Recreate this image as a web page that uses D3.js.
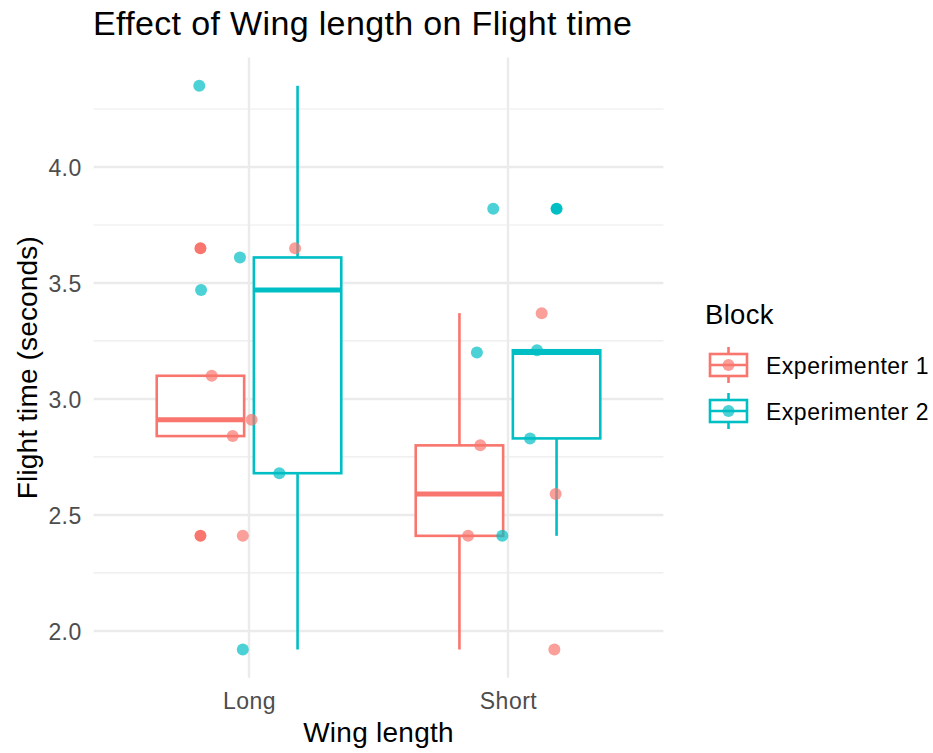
<!DOCTYPE html>
<html>
<head>
<meta charset="utf-8">
<script src="https://cdn.jsdelivr.net/npm/d3@7"></script>
<style>
  html, body { margin: 0; padding: 0; background: #fff; }
  svg { display: block; font-family: "Liberation Sans", Arial, Helvetica, sans-serif; }
</style>
</head>
<body>
<svg id="chart" width="933" height="753"></svg>
<script>
// ---- data ----
const categories = ["Long", "Short"];
const blocks = ["Experimenter 1", "Experimenter 2"];
const blockColors = ["#F8766D", "#00BFC4"];
const obsWing = ["Long","Long","Long","Long","Long",
                 "Long","Long","Long","Long","Long",
                 "Short","Short","Short","Short","Short",
                 "Short","Short","Short","Short","Short"];
const obsBlock = ["Experimenter 1","Experimenter 1","Experimenter 1","Experimenter 1","Experimenter 1",
                  "Experimenter 2","Experimenter 2","Experimenter 2","Experimenter 2","Experimenter 2",
                  "Experimenter 1","Experimenter 1","Experimenter 1","Experimenter 1","Experimenter 1",
                  "Experimenter 2","Experimenter 2","Experimenter 2","Experimenter 2","Experimenter 2"];
const flightTime = [3.65, 3.10, 2.91, 2.84, 2.41,
                    4.35, 3.61, 3.47, 2.68, 1.92,
                    3.37, 2.80, 2.59, 2.41, 1.92,
                    3.82, 3.21, 3.20, 2.83, 2.41];
// horizontal jitter of each point, in category units
const jitterOffset = [0.178, -0.144, 0.010, -0.063, -0.024,
                      -0.192, -0.035, -0.185, 0.117, -0.024,
                      0.130, -0.107, 0.184, -0.154, 0.179,
                      -0.057, 0.112, -0.120, 0.085, -0.022];
const yTicks = [2.0, 2.5, 3.0, 3.5, 4.0];
const yTickLabels = ["2.0", "2.5", "3.0", "3.5", "4.0"];
const yMinorTicks = [2.25, 2.75, 3.25, 3.75, 4.25];

const obs = flightTime.map((v, i) => ({ wing: obsWing[i], block: obsBlock[i], value: v, jit: jitterOffset[i] }));

// ---- layout ----
const svg = d3.select("#chart");
const panel = { left: 93.6, right: 663.4, top: 57.6, bottom: 677.7 };

const x = d3.scalePoint().domain(categories).range([panel.left, panel.right]).padding(0.6);
const step = x.step();
const ext = d3.extent(flightTime);
const pad = (ext[1] - ext[0]) * 0.05;
const y = d3.scaleLinear().domain([ext[0] - pad, ext[1] + pad]).range([panel.bottom, panel.top]);
const color = d3.scaleOrdinal().domain(blocks).range(blockColors);

const dodge = d3.scaleBand().domain(blocks).range([-0.375, 0.375]); // in category units
const boxHalf = 0.375 * 0.9 / 2;

// ---- grid ----
const grid = svg.append("g");
grid.selectAll("line.minor").data(yMinorTicks).join("line")
  .attr("x1", panel.left).attr("x2", panel.right)
  .attr("y1", d => y(d)).attr("y2", d => y(d))
  .attr("stroke", "#EBEBEB").attr("stroke-width", 1.2);
grid.selectAll("line.major").data(yTicks).join("line")
  .attr("x1", panel.left).attr("x2", panel.right)
  .attr("y1", d => y(d)).attr("y2", d => y(d))
  .attr("stroke", "#EBEBEB").attr("stroke-width", 2.4);
grid.selectAll("line.vmajor").data(categories).join("line")
  .attr("x1", d => x(d)).attr("x2", d => x(d))
  .attr("y1", panel.top).attr("y2", panel.bottom)
  .attr("stroke", "#EBEBEB").attr("stroke-width", 2.4);

// ---- axes (text only, theme_minimal) ----
const yAxis = d3.axisLeft(y).tickValues(yTicks).tickFormat((d, i) => yTickLabels[i]).tickSize(0).tickPadding(0);
const yg = svg.append("g").attr("transform", `translate(${panel.left - 12},0)`).call(yAxis);
yg.select(".domain").remove();
yg.selectAll("text").attr("font-size", 23).attr("letter-spacing", 0.4).attr("fill", "#4D4D4D")
  .attr("font-family", "'Liberation Sans', Arial, sans-serif").attr("dy", "0.36em");

const xAxis = d3.axisBottom(x).tickSize(0).tickPadding(0);
const xg = svg.append("g").attr("transform", `translate(0,${panel.bottom})`).call(xAxis);
xg.select(".domain").remove();
xg.selectAll("text").attr("font-size", 23).attr("letter-spacing", 0.5).attr("fill", "#4D4D4D")
  .attr("font-family", "'Liberation Sans', Arial, sans-serif").attr("y", 31).attr("dy", 0);

// ---- boxplots ----
const groups = [];
categories.forEach(c => blocks.forEach(b => {
  const vals = obs.filter(o => o.wing === c && o.block === b).map(o => o.value).sort(d3.ascending);
  const q1 = d3.quantile(vals, 0.25), med = d3.quantile(vals, 0.5), q3 = d3.quantile(vals, 0.75);
  const iqr = q3 - q1;
  const lo = q1 - 1.5 * iqr, hi = q3 + 1.5 * iqr;
  const inside = vals.filter(v => v >= lo && v <= hi);
  groups.push({ cat: c, block: b, q1, med, q3, wlo: d3.min(inside), whi: d3.max(inside),
    outliers: vals.filter(v => v < lo || v > hi),
    cx: x(c) + (dodge(b) + dodge.bandwidth() / 2) * step });
}));

const bg = svg.append("g");
groups.forEach(g => {
  const col = color(g.block);
  const gg = bg.append("g");
  gg.append("line").attr("x1", g.cx).attr("x2", g.cx).attr("y1", y(g.q3)).attr("y2", y(g.whi))
    .attr("stroke", col).attr("stroke-width", 2.6);
  gg.append("line").attr("x1", g.cx).attr("x2", g.cx).attr("y1", y(g.q1)).attr("y2", y(g.wlo))
    .attr("stroke", col).attr("stroke-width", 2.6);
  gg.append("rect").attr("x", g.cx - boxHalf * step).attr("width", 2 * boxHalf * step)
    .attr("y", y(g.q3)).attr("height", y(g.q1) - y(g.q3))
    .attr("fill", "#fff").attr("stroke", col).attr("stroke-width", 2.6);
  gg.append("line").attr("x1", g.cx - boxHalf * step).attr("x2", g.cx + boxHalf * step)
    .attr("y1", y(g.med)).attr("y2", y(g.med))
    .attr("stroke", col).attr("stroke-width", 5);
  gg.selectAll("circle").data(g.outliers).join("circle")
    .attr("cx", g.cx).attr("cy", d => y(d)).attr("r", 6).attr("fill", col);
});

// ---- jittered points ----
svg.append("g").selectAll("circle").data(obs).join("circle")
  .attr("cx", d => x(d.wing) + d.jit * step)
  .attr("cy", d => y(d.value))
  .attr("r", 6)
  .attr("fill", d => color(d.block))
  .attr("fill-opacity", 0.7);

// ---- titles ----
svg.append("text").attr("x", 93).attr("y", 35).attr("font-size", 34).attr("letter-spacing", 0.35)
  .attr("fill", "#000").text("Effect of Wing length on Flight time");
svg.append("text").attr("x", (panel.left + panel.right) / 2).attr("y", 742)
  .attr("text-anchor", "middle").attr("font-size", 28).attr("letter-spacing", 0.25)
  .attr("fill", "#000").text("Wing length");
svg.append("text").attr("transform", `translate(36.5,${(panel.top + panel.bottom) / 2}) rotate(-90)`)
  .attr("text-anchor", "middle").attr("font-size", 28).attr("letter-spacing", 0.15)
  .attr("fill", "#000").text("Flight time (seconds)");

// ---- legend ----
const lg = svg.append("g");
lg.append("text").attr("x", 705).attr("y", 324).attr("font-size", 27.5).attr("letter-spacing", 0.3)
  .attr("fill", "#000").text("Block");
blocks.forEach((b, i) => {
  const cy = 365 + i * 46, cx = 728.5;
  const col = color(b);
  const k = lg.append("g");
  k.append("line").attr("x1", cx).attr("x2", cx).attr("y1", cy - 18).attr("y2", cy + 18)
    .attr("stroke", col).attr("stroke-width", 2.6);
  k.append("rect").attr("x", cx - 18.5).attr("y", cy - 11).attr("width", 37).attr("height", 22)
    .attr("fill", "#fff").attr("stroke", col).attr("stroke-width", 2.6);
  k.append("line").attr("x1", cx - 18.5).attr("x2", cx + 18.5).attr("y1", cy).attr("y2", cy)
    .attr("stroke", col).attr("stroke-width", 2.6);
  k.append("circle").attr("cx", cx).attr("cy", cy).attr("r", 6).attr("fill", col).attr("fill-opacity", 0.7);
  k.append("text").attr("x", 766).attr("y", cy + 8.5).attr("font-size", 23).attr("letter-spacing", 0.5)
    .attr("fill", "#000").text(b);
});
</script>
</body>
</html>
